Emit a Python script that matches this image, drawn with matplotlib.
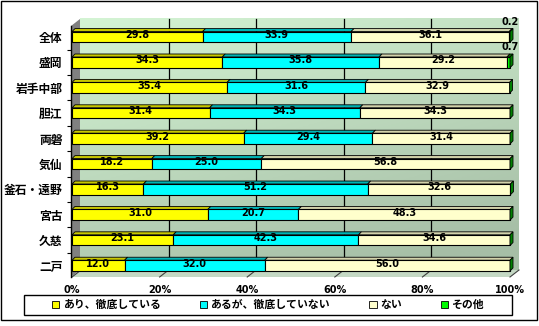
import numpy as np
import matplotlib
matplotlib.use("Agg")
import matplotlib.pyplot as plt
from matplotlib.patches import Polygon, Rectangle, Patch

plt.rcParams['font.family'] = ['Noto Sans CJK JP', 'DejaVu Sans']

# data
regions = ['全体', '盛岡', '岩手中部', '胆江', '両磐', '気仙', '釜石・遠野', '宮古', '久慈', '二戸']
strict = [29.8, 34.3, 35.4, 31.4, 39.2, 18.2, 16.3, 31.0, 23.1, 12.0]
loose = [33.9, 35.8, 31.6, 34.3, 29.4, 25.0, 51.2, 20.7, 42.3, 32.0]
nashi = [36.1, 29.2, 32.9, 34.3, 31.4, 56.8, 32.6, 48.3, 34.6, 56.0]
other = [0.2, 0.7, 0, 0, 0, 0, 0, 0, 0, 0]
series_names = ['あり、徹底している', 'あるが、徹底していない', 'ない', 'その他']
xticks = [0, 20, 40, 60, 80, 100]

front_colors = ['#ffff00', '#00ffff', '#ffffcc', '#00ff00']
top_colors = ['#c8c800', '#00b4b4', '#d2d2aa', '#008000']

W, H = 539, 326
fig = plt.figure(figsize=(W / 100, H / 100), dpi=100)
# axes = front plane of the 3d box (pixels: x 71..510, y 26..277)
ax = fig.add_axes([71 / W, 1 - 277 / H, (510 - 71) / W, (277 - 26) / H])
x_lo, x_hi = -0.23, 100
y_top, y_bot = -0.43, 9.45
sx = (510 - 71) / (x_hi - x_lo)
sy = (277 - 26) / (y_bot - y_top)

# depth offsets (pixels -> data units)
wdx, wdy = 9 / sx, 7 / sy      # walls
bdx, bdy = 3 / sx, 3 / sy      # bars

# back wall with gradient
bx0, bx1 = x_lo + wdx, x_hi + wdx
by0, by1 = y_top - wdy, y_bot - wdy
gy, gx = np.mgrid[0:1:100j, 0:1:100j]
t = np.clip(0.75 * gy + 0.35 * gx, 0, 1)[..., None]
c1 = np.array([212, 244, 212]) / 255
c2 = np.array([166, 190, 166]) / 255
img = c1 * (1 - t) + c2 * t
ax.imshow(img, extent=(bx0, bx1, by1, by0), aspect='auto', zorder=0, clip_on=False)

# left wall and floor
ax.add_patch(Polygon([(x_lo, y_top), (bx0, by0), (bx0, by1), (x_lo, y_bot)],
                     closed=True, facecolor='#808080', edgecolor='none', zorder=1, clip_on=False))
ax.add_patch(Polygon([(x_lo, y_bot), (bx0, by1), (bx1, by1), (x_hi, y_bot)],
                     closed=True, facecolor='#c4d8c4', edgecolor='none', zorder=1, clip_on=False))

# gridlines on back wall and floor
for p in xticks:
    if 0 < p < 100:
        ax.plot([p + wdx, p + wdx], [by0, by1], color='black', lw=0.9, zorder=2, clip_on=False)
    ax.plot([p + wdx, p], [by1, y_bot], color='#404040', lw=0.8, zorder=2, clip_on=False)

# bars
series = [strict, loose, nashi, other]
h = 0.42
y = np.arange(len(regions))
lefts = np.zeros(len(regions))
for k, vals in enumerate(series):
    vals = np.array(vals)
    ax.barh(y, vals, left=lefts, height=h, color=front_colors[k], edgecolor='black',
            linewidth=0.8, zorder=4, clip_on=False)
    for i in range(len(regions)):
        l, r = lefts[i], lefts[i] + vals[i]
        if vals[i] > 0:
            yt = i - h / 2
            ax.add_patch(Polygon([(l, yt), (l + bdx, yt - bdy), (r + bdx, yt - bdy), (r, yt)],
                                 closed=True, facecolor=top_colors[k], edgecolor='black',
                                 lw=0.6, zorder=3, clip_on=False))
        if vals[i] >= 1:
            ax.text((l + r) / 2, i - 0.08, '%.1f' % vals[i], ha='center', va='center',
                    fontsize=7, fontweight='bold', family='DejaVu Sans', zorder=6)
        elif vals[i] > 0:
            ax.text(r, i - 0.6, '%.1f' % vals[i], ha='center', va='center',
                    fontsize=7, fontweight='bold', family='DejaVu Sans', zorder=6)
    lefts = lefts + vals

# right end caps (side face of the last series)
for i in range(len(regions)):
    r = lefts[i]
    yt, yb = i - h / 2, i + h / 2
    ax.add_patch(Polygon([(r, yt), (r + bdx, yt - bdy), (r + bdx, yb - bdy), (r, yb)],
                         closed=True, facecolor=top_colors[3], edgecolor='black',
                         lw=0.6, zorder=5, clip_on=False))

ax.set_xlim(x_lo, x_hi)
ax.set_ylim(y_bot, y_top)
ax.patch.set_visible(False)
for s in ['top', 'right', 'bottom']:
    ax.spines[s].set_visible(False)
ax.spines['left'].set_linewidth(1)
ax.spines['left'].set_zorder(5)

ax.set_yticks(y)
ax.set_yticklabels(regions, fontsize=8.5, fontweight='bold')
ax.set_yticks(np.arange(0.5, 9.5, 1), minor=True)
ax.tick_params(axis='y', which='major', length=0, pad=6)
ax.tick_params(axis='y', which='minor', length=3, width=0.8)
ax.set_xticks(xticks)
ax.set_xticklabels(['%d%%' % p for p in xticks], fontsize=7, fontweight='bold',
                   family='DejaVu Sans')
ax.tick_params(axis='x', length=0, pad=6)

# legend: box drawn separately, entries centred inside
fig.add_artist(Rectangle((24 / W, 1 - 315 / H), 488 / W, 20 / H, transform=fig.transFigure,
                         facecolor='white', edgecolor='black', linewidth=1))
handles = [Patch(facecolor=c, edgecolor='black', linewidth=0.6) for c in front_colors]
leg = fig.legend(handles, series_names, loc='center', ncol=4,
                 bbox_to_anchor=(268 / W, 1 - 305 / H),
                 prop={'size': 7.8, 'weight': 'bold'}, handlelength=0.7, handleheight=0.7,
                 handletextpad=0.3, columnspacing=3.6, borderaxespad=0, frameon=False)

fig.add_artist(Rectangle((1 / W, 1 - 320 / H), 536 / W, 319 / H, transform=fig.transFigure,
                         fill=False, edgecolor='black', linewidth=1))

fig.savefig('out.png', dpi=100)
